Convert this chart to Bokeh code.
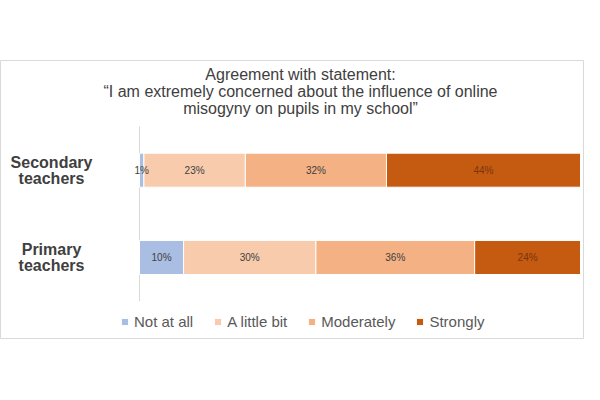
from bokeh.plotting import figure
from bokeh.models import ColumnDataSource, Range1d
from bokeh.core.properties import value
from bokeh.embed import file_html
from bokeh.resources import INLINE

# ---- data ----
title_lines = [
    "Agreement with statement:",
    "\u201cI am extremely concerned about the influence of online",
    "misogyny on pupils in my school\u201d",
]
groups = ["Primary\nteachers", "Secondary\nteachers"]
responses = ["Not at all", "A little bit", "Moderately", "Strongly"]
not_at_all = [10, 1]
a_little_bit = [30, 23]
moderately = [36, 32]
strongly = [24, 44]

# ---- styles ----
colors = ["#a9bee2", "#f8cbad", "#f4b183", "#c55a11"]
label_colors = ["#404040", "#404040", "#404040", "#7a3510"]
FONT = "Liberation Sans"

series = [not_at_all, a_little_bit, moderately, strongly]
pos = list(range(len(groups)))

data = {"pos": pos, "group": groups}
for name, vals in zip(responses, series):
    data[name] = vals
source = ColumnDataSource(data)

p = figure(
    width=584, height=384,
    x_range=Range1d(-31.52, 100.907),
    y_range=Range1d(-0.928, 2.2566),
    x_axis_location=None, y_axis_location=None,
    toolbar_location=None, output_backend="svg",
    min_border_left=0, min_border_right=0,
    min_border_top=60, min_border_bottom=46,
)
p.outline_line_color = "#d9d9d9"
p.outline_line_width = 1
p.xgrid.visible = False
p.ygrid.visible = False
p.background_fill_color = "white"
p.border_fill_color = "white"

# category axis line
p.segment(x0=[0], y0=[-0.5], x1=[0], y1=[len(groups) - 0.5],
          line_color="#d9d9d9", line_width=1)

# stacked bars
p.hbar_stack(responses, y="pos", height=0.39, color=colors, source=source,
             legend_label=responses, line_color="white", line_width=1)

# data labels
lx, ly, lt, lc = [], [], [], []
for i in pos:
    left = 0
    for j, vals in enumerate(series):
        v = vals[i]
        lx.append(left + v / 2)
        ly.append(i)
        lt.append(f"{v}%")
        lc.append(label_colors[j])
        left += v
p.text(x=lx, y=ly, text=lt, text_color=lc, text_font=value(FONT),
       text_font_size="10px", text_align="center", text_baseline="middle")

# category labels
p.text(x=[-19.95] * len(groups), y=pos, text=groups, text_font=value(FONT),
       text_font_size="16px", text_font_style="bold", text_color="#404040",
       text_align="center", text_baseline="middle", text_line_height=0.95)

# title
ty = [2.096 - 0.196 * i for i in range(len(title_lines))]
p.text(x=[36.51] * len(title_lines), y=ty, text=title_lines, text_font=value(FONT),
       text_font_size="16px", text_color="#404040",
       text_align="center", text_baseline="middle")

# legend
lg = p.legend[0]
lg.orientation = "horizontal"
lg.location = (120, 8)
lg.label_text_font = FONT
lg.label_text_font_size = "15px"
lg.label_text_color = "#595959"
lg.glyph_width = 9
lg.glyph_height = 9
lg.label_height = 16
lg.label_standoff = 5
lg.spacing = 20
lg.padding = 0
lg.margin = 0
lg.border_line_color = None
lg.background_fill_alpha = 0

open("out.html", "w").write(file_html(p, INLINE))
